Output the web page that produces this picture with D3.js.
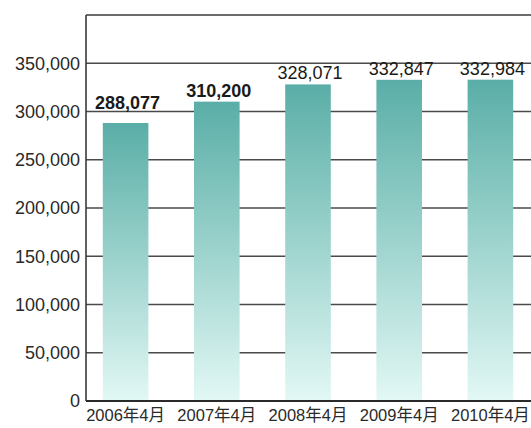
<!DOCTYPE html>
<html>
<head>
<meta charset="utf-8">
<script src="https://cdn.jsdelivr.net/npm/d3@7"></script>
<style>
  body { margin: 0; background: #fff; }
  svg text { font-family: "Liberation Sans", Arial, "Noto Sans CJK JP", sans-serif; fill: #222; }
</style>
</head>
<body>
<div id="chart"></div>
<script>
// data
const months = ["2006年4月", "2007年4月", "2008年4月", "2009年4月", "2010年4月"];
const counts = [288077, 310200, 328071, 332847, 332984];
const yTicks = [0, 50000, 100000, 150000, 200000, 250000, 300000, 350000];

const width = 531,
  height = 428,
  axisX = 86,
  plotTop = 15,
  plotBtm = 401;

const dataset = months.map((m, i) => ({ month: m, count: counts[i] }));

const svg = d3.select("#chart")
  .append("svg")
  .attr("width", width)
  .attr("height", height);

// vertical teal gradient shared by every bar
const grad = svg.append("defs")
  .append("linearGradient")
  .attr("id", "barFill")
  .attr("x1", 0).attr("y1", 0)
  .attr("x2", 0).attr("y2", 1);
grad.append("stop").attr("offset", "0%").attr("stop-color", "#5aaea7");
grad.append("stop").attr("offset", "50%").attr("stop-color", "#9dd3cd");
grad.append("stop").attr("offset", "100%").attr("stop-color", "#e2f8f5");

const xScale = d3.scaleBand()
  .domain(months)
  .range([80, 536])
  .paddingInner(0.5)
  .paddingOuter(0.25);

const yScale = d3.scaleLinear()
  .domain([0, 400000])
  .range([plotBtm, plotTop]);

const fmt = d3.format(",");

// horizontal grid lines (behind the bars)
svg.append("g")
  .attr("class", "grid")
  .selectAll("line")
  .data(yTicks.slice(1))
  .enter()
  .append("line")
  .attr("x1", axisX)
  .attr("x2", width)
  .attr("y1", d => yScale(d))
  .attr("y2", d => yScale(d))
  .style("stroke", "#4a4a4a")
  .style("stroke-width", 1.3);

// top border
svg.append("line")
  .attr("x1", axisX)
  .attr("x2", width)
  .attr("y1", yScale(400000))
  .attr("y2", yScale(400000))
  .style("stroke", "#3a3a3a")
  .style("stroke-width", 1.5);

// bars
svg.append("g")
  .attr("class", "bars")
  .selectAll("rect")
  .data(dataset)
  .enter()
  .append("rect")
  .attr("x", d => xScale(d.month))
  .attr("y", d => yScale(d.count))
  .attr("width", xScale.bandwidth())
  .attr("height", d => yScale(0) - yScale(d.count))
  .style("fill", "url(#barFill)");

// y axis labels
const yAxis = svg.append("g")
  .attr("class", "y axis")
  .attr("transform", "translate(" + axisX + ",0)")
  .call(d3.axisLeft(yScale).tickValues(yTicks).tickFormat(fmt).tickSize(0).tickPadding(6));
yAxis.select(".domain").remove();
yAxis.selectAll("text")
  .style("font-size", "18px")
  .style("fill", "#2a2a2a");

// x axis labels
const xAxis = svg.append("g")
  .attr("class", "x axis")
  .attr("transform", "translate(0," + plotBtm + ")")
  .call(d3.axisBottom(xScale).tickSize(0).tickPadding(8));
xAxis.select(".domain").remove();
xAxis.selectAll("text")
  .style("font-size", "16.5px")
  .style("fill", "#2a2a2a");

// axis lines
svg.append("line")
  .attr("x1", axisX).attr("x2", axisX)
  .attr("y1", plotTop).attr("y2", plotBtm)
  .style("stroke", "#3a3a3a")
  .style("stroke-width", 1.6);
svg.append("line")
  .attr("x1", axisX).attr("x2", width)
  .attr("y1", plotBtm).attr("y2", plotBtm)
  .style("stroke", "#2a2a2a")
  .style("stroke-width", 2);

// label baseline: just above the bar, but lifted over a grid line it would cross
function labelY(d) {
  let base = yScale(d.count) - 5;
  const capTop = base - 13;
  yTicks.forEach(t => {
    const gy = yScale(t);
    if (gy > capTop + 3 && gy < base) base = gy - 3;
  });
  return base;
}

// value labels above the bars
svg.append("g")
  .attr("class", "values")
  .selectAll("text")
  .data(dataset)
  .enter()
  .append("text")
  .attr("x", d => xScale(d.month) + xScale.bandwidth() / 2 + 2)
  .attr("y", labelY)
  .attr("text-anchor", "middle")
  .style("font-size", "18px")
  .style("font-weight", (d, i) => i < 2 ? "bold" : "normal")
  .style("fill", "#1a1a1a")
  .text(d => fmt(d.count));
</script>
</body>
</html>
